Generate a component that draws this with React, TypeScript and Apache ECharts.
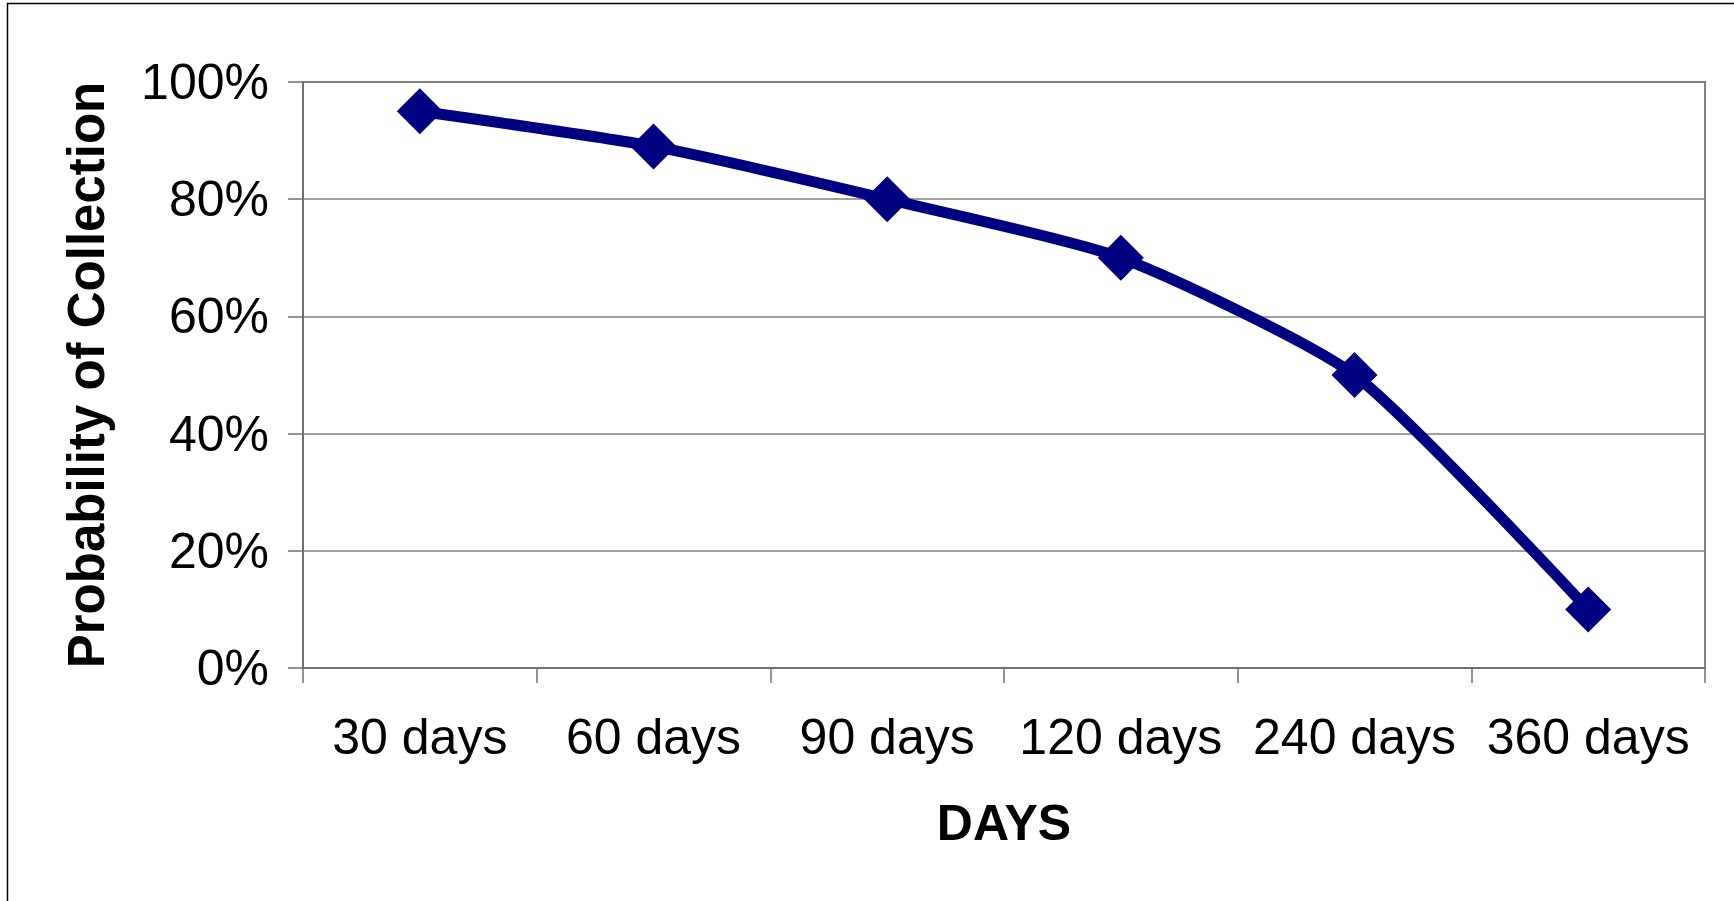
import React, { useEffect, useRef } from "react";
import * as echarts from "echarts";

const categories = ["30 days", "60 days", "90 days", "120 days", "240 days", "360 days"];
const collectionProbability = [0.95, 0.89, 0.8, 0.7, 0.5, 0.1];
const yTicks = [0, 0.2, 0.4, 0.6, 0.8, 1.0];

const FONT = "'Liberation Sans', Arial, Helvetica, sans-serif";

export default function App() {
  const ref = useRef<HTMLDivElement>(null);
  useEffect(() => {
    if (!ref.current) return;
    const chart = echarts.init(ref.current, undefined, { renderer: "svg" });
    chart.setOption({
      animation: false,
      backgroundColor: "#ffffff",
      textStyle: { fontFamily: FONT },
      graphic: [
        {
          type: "rect",
          shape: { x: 7.5, y: 3.5, width: 1800, height: 1000 },
          style: { fill: "none", stroke: "#000000", lineWidth: 1.5 },
          silent: true,
        },
      ],
      grid: {
        left: 303,
        top: 82,
        width: 1402,
        height: 586,
        show: true,
        borderColor: "#808080",
        borderWidth: 2,
        backgroundColor: "transparent",
      },
      xAxis: {
        type: "category",
        data: categories,
        boundaryGap: true,
        name: "DAYS",
        nameLocation: "middle",
        nameGap: 130,
        nameTextStyle: { fontFamily: FONT, fontSize: 50, fontWeight: "bold", color: "#000" },
        axisLine: { show: true, lineStyle: { color: "#707070", width: 2 } },
        axisTick: { show: true, length: 15, lineStyle: { color: "#707070", width: 1.5 } },
        axisLabel: { fontFamily: FONT, fontSize: 50, color: "#000", margin: 44, interval: 0 },
        splitLine: { show: false },
      },
      yAxis: {
        type: "value",
        min: yTicks[0],
        max: yTicks[yTicks.length - 1],
        interval: 0.2,
        name: "Probability of Collection",
        nameLocation: "middle",
        nameRotate: 90,
        nameGap: 191,
        nameTextStyle: { fontFamily: FONT, fontSize: 51, fontWeight: "bold", color: "#000" },
        axisLine: { show: true, lineStyle: { color: "#707070", width: 2 } },
        axisTick: { show: true, length: 15, lineStyle: { color: "#707070", width: 1.5 } },
        axisLabel: {
          fontFamily: FONT,
          fontSize: 50,
          color: "#000",
          margin: 34,
          formatter: (v: number) => `${Math.round(v * 100)}%`,
        },
        splitLine: { show: true, lineStyle: { color: "#808080", width: 1.5 } },
      },
      series: [
        {
          type: "line",
          data: collectionProbability,
          smooth: 0.2,
          symbol: "diamond",
          symbolSize: 46,
          lineStyle: { color: "#000080", width: 11 },
          itemStyle: { color: "#000080" },
        },
      ],
    });
    return () => chart.dispose();
  }, []);
  return (
    <div
      ref={ref}
      style={{ position: "absolute", left: 0, top: 0, width: 1734, height: 901 }}
    />
  );
}
